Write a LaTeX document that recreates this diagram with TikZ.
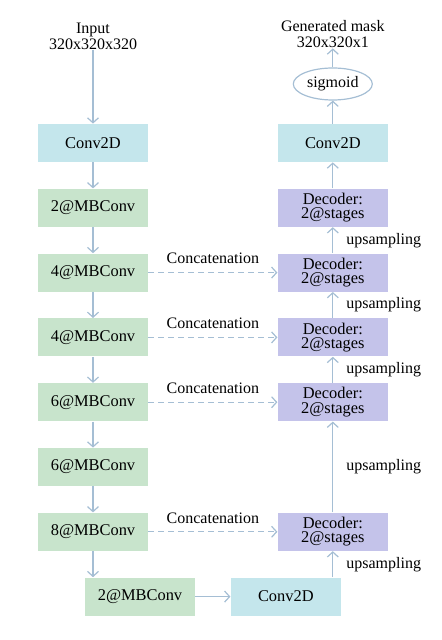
\documentclass[tikz,border=0pt]{standalone}
\definecolor{convcyan}{RGB}{196, 230, 236}
\definecolor{mbgreen}{RGB}{200, 228, 204}
\definecolor{decpurple}{RGB}{196, 195, 234}
\definecolor{linkblue}{RGB}{165, 190, 212}
\usepackage{fontspec}
\setmainfont{Liberation Serif}
\usepackage{tikz}
\usetikzlibrary{shapes,arrows.meta,positioning,calc}

\tikzset{
    box/.style={rectangle, minimum width=55pt, minimum height=19pt, inner sep=0pt, align=center, font=\fontsize{8.2}{7.2}\selectfont},
    convbox/.style={box, fill=convcyan},
    mbbox/.style={box, fill=mbgreen},
    decbox/.style={box, fill=decpurple},
    flow/.style={-{Straight Barb[length=2.5pt, width=5.5pt]}, line width=0.6pt, color=linkblue},
    skip/.style={flow, dashed, dash pattern=on 3pt off 2pt},
    tag/.style={inner sep=0pt, align=center, text=black, font=\fontsize{8}{8}\selectfont}
}

\begin{document}
\begin{tikzpicture}[node distance=13pt and 64.5pt]
    \useasboundingbox (0,0) rectangle (221pt,-320pt);

    % Encoder
    \node[convbox] (conv1) at (46.5pt,-71.5pt) {Conv2D};
    \node[mbbox, below=of conv1] (mb1) {2@MBConv};
    \node[mbbox, below=of mb1] (mb2) {4@MBConv};
    \node[mbbox, below=of mb2] (mb3) {4@MBConv};
    \node[mbbox, below=of mb3] (mb4) {6@MBConv};
    \node[mbbox, below=of mb4] (mb5) {6@MBConv};
    \node[mbbox, below=of mb5] (mb6) {8@MBConv};
    \node[mbbox, below=of mb6, xshift=23.5pt] (mb7) {2@MBConv};
    \node[convbox, right=17.5pt of mb7] (conv3) {Conv2D};

    % Decoder
    \node[convbox, right=of conv1] (conv2) {Conv2D};
    \node[decbox, right=of mb1] (dec1) {Decoder:\\2@stages};
    \node[decbox, right=of mb2] (dec2) {Decoder:\\2@stages};
    \node[decbox, right=of mb3] (dec3) {Decoder:\\2@stages};
    \node[decbox, right=of mb4] (dec4) {Decoder:\\2@stages};
    \node[decbox, right=of mb6] (dec5) {Decoder:\\2@stages};

    % Input and output
    \node[tag, above=37pt of conv1] (input) {Input\\320x320x320};
    \node[ellipse, draw=linkblue, line width=0.6pt, minimum width=39.5pt, minimum height=16pt, inner sep=0pt, font=\fontsize{8}{8}\selectfont, above=11.5pt of conv2] (sig) {sigmoid};
    \node[tag, above=9.5pt of sig] (mask) {Generated mask\\320x320x1};

    % Arrows
    \draw[flow] (input) -- (conv1);
    \draw[flow] (conv1) -- (mb1);
    \draw[flow] (mb1) -- (mb2);
    \draw[flow] (mb2) -- (mb3);
    \draw[flow] (mb3) -- (mb4);
    \draw[flow] (mb4) -- (mb5);
    \draw[flow] (mb5) -- (mb6);
    \draw[flow] (mb6.south) -- (mb6.south |- mb7.north);
    \draw[flow] (mb7) -- (conv3);
    \draw[flow] (dec5.south |- conv3.north) -- (dec5.south) node[tag, midway, right=6.5pt] {upsampling};
    \draw[flow] (dec5) -- (dec4) node[tag, midway, right=6.5pt] {upsampling};
    \draw[flow] (dec4) -- (dec3) node[tag, midway, right=6.5pt] {upsampling};
    \draw[flow] (dec3) -- (dec2) node[tag, midway, right=6.5pt] {upsampling};
    \draw[flow] (dec2) -- (dec1) node[tag, midway, right=6.5pt] {upsampling};
    \draw[flow] (dec1) -- (conv2);
    \draw[flow] (conv2) -- (sig);
    \draw[flow] (sig) -- (mask);

    % Skip connections
    \draw[skip] (mb2) -- (dec2) node[tag, midway, above=4pt] {Concatenation};
    \draw[skip] (mb3) -- (dec3) node[tag, midway, above=4pt] {Concatenation};
    \draw[skip] (mb4) -- (dec4) node[tag, midway, above=4pt] {Concatenation};
    \draw[skip] (mb6) -- (dec5) node[tag, midway, above=4pt] {Concatenation};
\end{tikzpicture}
\end{document}
